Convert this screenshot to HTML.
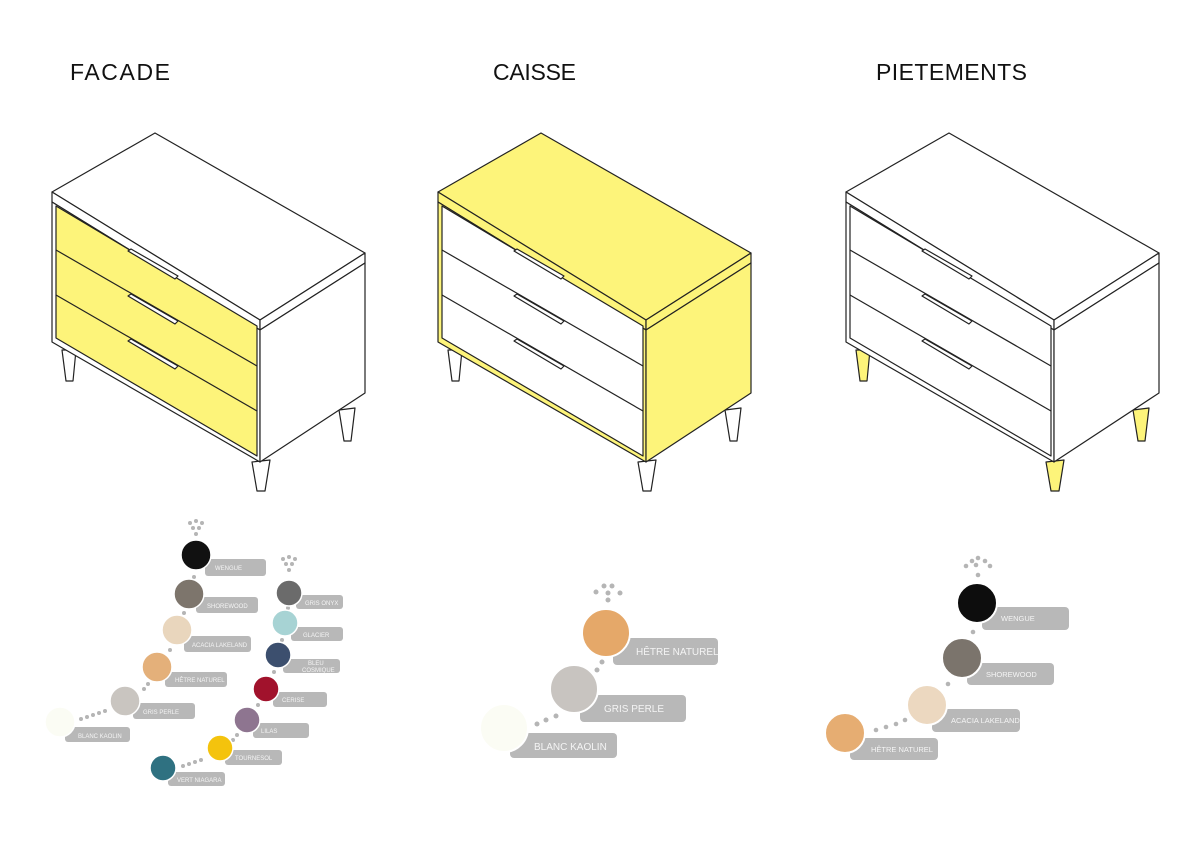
<!DOCTYPE html>
<html><head><meta charset="utf-8"><style>
html,body{margin:0;padding:0;background:#fff}
svg{display:block}
.t{font-family:"Liberation Sans",sans-serif;font-size:23px;fill:#111}
.l{font-family:"Liberation Sans",sans-serif;fill:#f4f4f4}
.ln{stroke:#222;stroke-width:1.2;stroke-linejoin:round}
</style></head><body>
<svg width="1200" height="849" viewBox="0 0 1200 849" xmlns="http://www.w3.org/2000/svg">
<defs>
<g id="d">
 <polygon class="ln" style="fill:var(--leg)" points="62,350 76,350 73,381 66,381"/>
 <polygon class="ln" style="fill:var(--leg)" points="339,410 355,408 351,441 344,441"/>
 <polygon class="ln" style="fill:var(--leg)" points="252,462 270,460 265,491 257,491"/>
 <polygon class="ln" style="fill:var(--case)" points="52,192 155,133 365,253 260,320"/>
 <polygon class="ln" style="fill:var(--case)" points="52,192 260,320 260,330 52,202"/>
 <polygon class="ln" style="fill:var(--case)" points="260,320 365,253 365,263 260,330"/>
 <polygon class="ln" style="fill:var(--case)" points="52,202 260,330 260,462 52,342"/>
 <polygon class="ln" style="fill:var(--case)" points="260,330 365,263 365,393 260,462"/>
 <polygon class="ln" style="fill:var(--dr)" points="56,206 257,326 257,456 56,338"/>
 <line class="ln" x1="56" y1="250" x2="257" y2="366"/>
 <line class="ln" x1="56" y1="295" x2="257" y2="411"/>
 <polygon class="ln" fill="#fff" points="128,251 131,249 178,276 175,279"/>
 <polygon class="ln" fill="#fff" points="128,296 131,294 178,321 175,324"/>
 <polygon class="ln" fill="#fff" points="128,341 131,339 178,366 175,369"/>
</g>
</defs>
<text class="t" x="70" y="80" textLength="100">FACADE</text>
<text class="t" x="493" y="80" textLength="83">CAISSE</text>
<text class="t" x="876" y="80" textLength="151">PIETEMENTS</text>

<use href="#d" style="--case:#fff;--dr:#fdf47a;--leg:#fff"/>
<use href="#d" x="386" style="--case:#fdf47a;--dr:#fff;--leg:#fff"/>
<use href="#d" x="794" style="--case:#fff;--dr:#fff;--leg:#fdf47a"/>

<g fill="#b8b8b8">
 <rect x="205" y="559" width="61" height="17" rx="3"/>
 <rect x="196" y="597" width="62" height="16" rx="3"/>
 <rect x="184" y="636" width="67" height="16" rx="3"/>
 <rect x="165" y="672" width="62" height="15" rx="3"/>
 <rect x="133" y="703" width="62" height="16" rx="3"/>
 <rect x="65" y="727" width="65" height="15" rx="3"/>
 <rect x="296" y="595" width="47" height="14" rx="3"/>
 <rect x="291" y="627" width="52" height="14" rx="3"/>
 <rect x="283" y="659" width="57" height="14" rx="3"/>
 <rect x="273" y="692" width="54" height="15" rx="3"/>
 <rect x="253" y="723" width="56" height="15" rx="3"/>
 <rect x="225" y="750" width="57" height="15" rx="3"/>
 <rect x="168" y="772" width="57" height="14" rx="3"/>
</g>
<g class="l" font-size="6">
 <text x="215" y="570">WENGUE</text>
 <text x="207" y="608">SHOREWOOD</text>
 <text x="192" y="647">ACACIA LAKELAND</text>
 <text x="175" y="682">HÊTRE NATUREL</text>
 <text x="143" y="714">GRIS PERLE</text>
 <text x="78" y="738">BLANC KAOLIN</text>
 <text x="305" y="605">GRIS ONYX</text>
 <text x="303" y="637">GLACIER</text>
 <text x="308" y="665">BLEU</text>
 <text x="302" y="672">COSMIQUE</text>
 <text x="282" y="702">CERISE</text>
 <text x="261" y="733">LILAS</text>
 <text x="235" y="760">TOURNESOL</text>
 <text x="177" y="782">VERT NIAGARA</text>
</g>
<g fill="#b5b5b5">
 <circle cx="190" cy="523" r="2"/><circle cx="196" cy="521" r="2"/><circle cx="202" cy="523" r="2"/><circle cx="193" cy="528" r="2"/><circle cx="199" cy="528" r="2"/><circle cx="196" cy="534" r="2"/>
 <circle cx="283" cy="559" r="2"/><circle cx="289" cy="557" r="2"/><circle cx="295" cy="559" r="2"/><circle cx="286" cy="564" r="2"/><circle cx="292" cy="564" r="2"/><circle cx="289" cy="570" r="2"/>
 <circle cx="194" cy="577" r="2"/><circle cx="184" cy="613" r="2"/><circle cx="170" cy="650" r="2"/><circle cx="148" cy="684" r="2"/><circle cx="144" cy="689" r="2"/>
 <circle cx="81" cy="719" r="2"/><circle cx="87" cy="717" r="2"/><circle cx="93" cy="715" r="2"/><circle cx="99" cy="713" r="2"/><circle cx="105" cy="711" r="2"/>
 <circle cx="288" cy="608" r="2"/><circle cx="282" cy="640" r="2"/><circle cx="274" cy="672" r="2"/><circle cx="258" cy="705" r="2"/><circle cx="237" cy="735" r="2"/><circle cx="233" cy="740" r="2"/>
 <circle cx="183" cy="766" r="2"/><circle cx="189" cy="764" r="2"/><circle cx="195" cy="762" r="2"/><circle cx="201" cy="760" r="2"/>
</g>
<g stroke="#fff" stroke-width="1.5">
 <circle cx="196" cy="555" r="15" fill="#111"/>
 <circle cx="189" cy="594" r="15" fill="#7d756c"/>
 <circle cx="177" cy="630" r="15" fill="#e9d6bd"/>
 <circle cx="157" cy="667" r="15" fill="#e4b07a"/>
 <circle cx="125" cy="701" r="15" fill="#c9c5c0"/>
 <circle cx="60" cy="722" r="15" fill="#fbfcf4"/>
 <circle cx="289" cy="593" r="13" fill="#6b6b6b"/>
 <circle cx="285" cy="623" r="13" fill="#a7d3d4"/>
 <circle cx="278" cy="655" r="13" fill="#3c4f6e"/>
 <circle cx="266" cy="689" r="13" fill="#a1122c"/>
 <circle cx="247" cy="720" r="13" fill="#8e7590"/>
 <circle cx="220" cy="748" r="13" fill="#f4c30d"/>
 <circle cx="163" cy="768" r="13" fill="#2f7181"/>
</g>

<g fill="#b8b8b8">
 <rect x="613" y="638" width="105" height="27" rx="4"/>
 <rect x="580" y="695" width="106" height="27" rx="4"/>
 <rect x="510" y="733" width="107" height="25" rx="4"/>
</g>
<g class="l" font-size="10">
 <text x="636" y="655">HÊTRE NATUREL</text>
 <text x="604" y="712">GRIS PERLE</text>
 <text x="534" y="750">BLANC KAOLIN</text>
</g>
<g fill="#b5b5b5">
 <circle cx="596" cy="592" r="2.5"/><circle cx="604" cy="586" r="2.5"/><circle cx="612" cy="586" r="2.5"/><circle cx="608" cy="593" r="2.5"/><circle cx="620" cy="593" r="2.5"/><circle cx="608" cy="600" r="2.5"/>
 <circle cx="602" cy="662" r="2.5"/><circle cx="597" cy="670" r="2.5"/>
 <circle cx="537" cy="724" r="2.5"/><circle cx="546" cy="720" r="2.5"/><circle cx="556" cy="716" r="2.5"/>
</g>
<g stroke="#fff" stroke-width="2">
 <circle cx="606" cy="633" r="24" fill="#e5a869"/>
 <circle cx="574" cy="689" r="24" fill="#c8c4c0"/>
 <circle cx="504" cy="728" r="24" fill="#fbfcf4"/>
</g>

<g fill="#b8b8b8">
 <rect x="982" y="607" width="87" height="23" rx="4"/>
 <rect x="967" y="663" width="87" height="22" rx="4"/>
 <rect x="932" y="709" width="88" height="23" rx="4"/>
 <rect x="850" y="738" width="88" height="22" rx="4"/>
</g>
<g class="l" font-size="7.5">
 <text x="1001" y="621">WENGUE</text>
 <text x="986" y="677">SHOREWOOD</text>
 <text x="951" y="723">ACACIA LAKELAND</text>
 <text x="871" y="752">HÊTRE NATUREL</text>
</g>
<g fill="#b5b5b5">
 <circle cx="966" cy="566" r="2.3"/><circle cx="972" cy="561" r="2.3"/><circle cx="978" cy="558" r="2.3"/><circle cx="976" cy="565" r="2.3"/><circle cx="985" cy="561" r="2.3"/><circle cx="990" cy="566" r="2.3"/><circle cx="978" cy="575" r="2.3"/>
 <circle cx="973" cy="632" r="2.3"/><circle cx="948" cy="684" r="2.3"/>
 <circle cx="876" cy="730" r="2.3"/><circle cx="886" cy="727" r="2.3"/><circle cx="896" cy="724" r="2.3"/><circle cx="905" cy="720" r="2.3"/>
</g>
<g stroke="#fff" stroke-width="2">
 <circle cx="977" cy="603" r="20" fill="#0d0d0d"/>
 <circle cx="962" cy="658" r="20" fill="#7b746c"/>
 <circle cx="927" cy="705" r="20" fill="#ecd8c0"/>
 <circle cx="845" cy="733" r="20" fill="#e6ad72"/>
</g>
</svg>
</body></html>
